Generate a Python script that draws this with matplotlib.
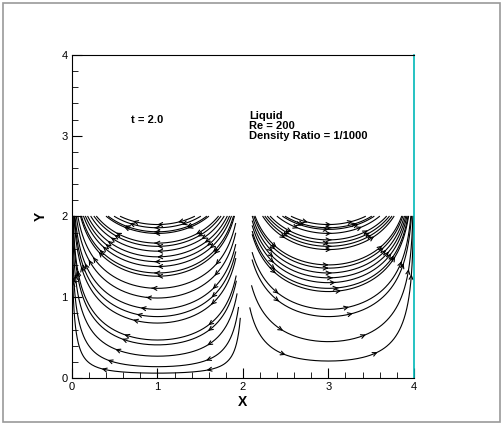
import numpy as np
import matplotlib.pyplot as plt
from matplotlib.patches import Rectangle, FancyArrowPatch

plt.rcParams['font.family'] = ['Liberation Sans', 'DejaVu Sans']

# dominio do escoamento (liquido ocupa 0 < y < 2)
x_lim = [0, 4]
y_lim = [0, 4]
liquid_height = 2.0

# alturas onde as linhas de corrente cruzam o centro de cada vortice
left_seed_x = 1.0
left_seed_y = [0.06, 0.14, 0.27, 0.41, 0.47, 0.68, 0.76, 0.85, 0.99, 1.11,
               1.26, 1.30, 1.38, 1.44, 1.50, 1.57, 1.63, 1.67, 1.79, 1.81,
               1.86, 1.90, 1.96]
right_seed_x = 3.0
right_seed_y = [0.21, 0.45, 0.76, 0.85, 1.07, 1.11, 1.18, 1.24, 1.30, 1.36,
                1.40, 1.59, 1.63, 1.67, 1.71, 1.79, 1.84, 1.86, 1.90, 1.96]

# comprimento maximo (para tras, para frente) de cada linha, como no Tecplot
left_len = (0.5, 4.0)
right_len = (0.45, 1.3)

# campo de velocidade a partir da funcao de corrente psi = -sin(pi x / 2) * sinh(k y)
k = 2.5
xg = np.linspace(0, 4, 401)
yg = np.linspace(0, liquid_height, 201)
X, Y = np.meshgrid(xg, yg)
U = -k * np.sin(np.pi * X / 2) * np.cosh(k * Y)
V = (np.pi / 2) * np.cos(np.pi * X / 2) * np.sinh(k * Y)

fig = plt.figure(figsize=(5.02, 4.24), dpi=100)
ax = fig.add_axes([0.1434, 0.1085, 0.681, 0.762])


def trajetoria(seed, direcao, comp):
    n_patches = len(ax.patches)
    sp = ax.streamplot(X, Y, U, V, start_points=np.array([seed]),
                       broken_streamlines=False, density=8,
                       integration_direction=direcao, maxlength=comp)
    segs = sp.lines.get_segments()
    sp.lines.remove()
    for p in list(ax.patches[n_patches:]):
        p.remove()
    if len(segs) == 0:
        return np.array([seed])
    return np.vstack([segs[0][:1]] + [s[1:] for s in segs])


# Função para desenhar uma linha de corrente com varias setas
def linha_de_corrente(seed, comps, fracs=(0.2, 0.5, 0.8)):
    seed = np.array(seed, dtype=float)
    tras = trajetoria(seed, 'backward', comps[0])
    frente = trajetoria(seed, 'forward', comps[1])
    if np.hypot(*(tras[0] - seed)) < np.hypot(*(tras[-1] - seed)):
        tras = tras[::-1]
    if np.hypot(*(frente[-1] - seed)) < np.hypot(*(frente[0] - seed)):
        frente = frente[::-1]
    pts = np.vstack([tras, seed[None, :], frente])
    ax.plot(pts[:, 0], pts[:, 1], color='black', lw=0.8)
    d = np.hypot(np.diff(pts[:, 0]), np.diff(pts[:, 1]))
    s = np.concatenate([[0], np.cumsum(d)])
    for f in fracs:
        i = np.searchsorted(s, f * s[-1])
        i = min(max(i, 1), len(pts) - 2)
        arr = FancyArrowPatch(pts[i - 1], pts[i + 1], arrowstyle='->',
                              mutation_scale=7, color='black', lw=0.8)
        ax.add_patch(arr)


for y0 in left_seed_y:
    linha_de_corrente([left_seed_x, y0], left_len)
for y0 in right_seed_y:
    linha_de_corrente([right_seed_x, y0], right_len)

ax.set_xlim(x_lim)
ax.set_ylim(y_lim)
ax.set_xticks([0, 1, 2, 3, 4])
ax.set_yticks([0, 1, 2, 3, 4])
ax.set_xticks(np.arange(0, 4.01, 0.2), minor=True)
ax.set_yticks(np.arange(0, 4.01, 0.2), minor=True)
ax.tick_params(which='major', direction='in', length=7, width=0.8, labelsize=8, pad=3)
ax.tick_params(which='minor', direction='in', length=4, width=0.6)
ax.spines['right'].set_color('#00B8B8')
ax.spines['right'].set_linewidth(1.2)

ax.set_xlabel('X', fontsize=10, fontweight='bold', labelpad=2)
ax.set_ylabel('Y', fontsize=10, fontweight='bold', labelpad=10)

ax.text(0.69, 3.19, 't = 2.0', fontsize=8, fontweight='bold', va='center')
ax.text(2.07, 3.30, 'Liquid\nRe = 200\nDensity Ratio = 1/1000', fontsize=8,
        fontweight='bold', va='top', linespacing=1.0)

fig.patches.append(Rectangle((0.006, 0.005), 0.99, 0.988, transform=fig.transFigure,
                             fill=False, edgecolor='#999999', linewidth=1.2))

fig.savefig('out.png', dpi=100)
